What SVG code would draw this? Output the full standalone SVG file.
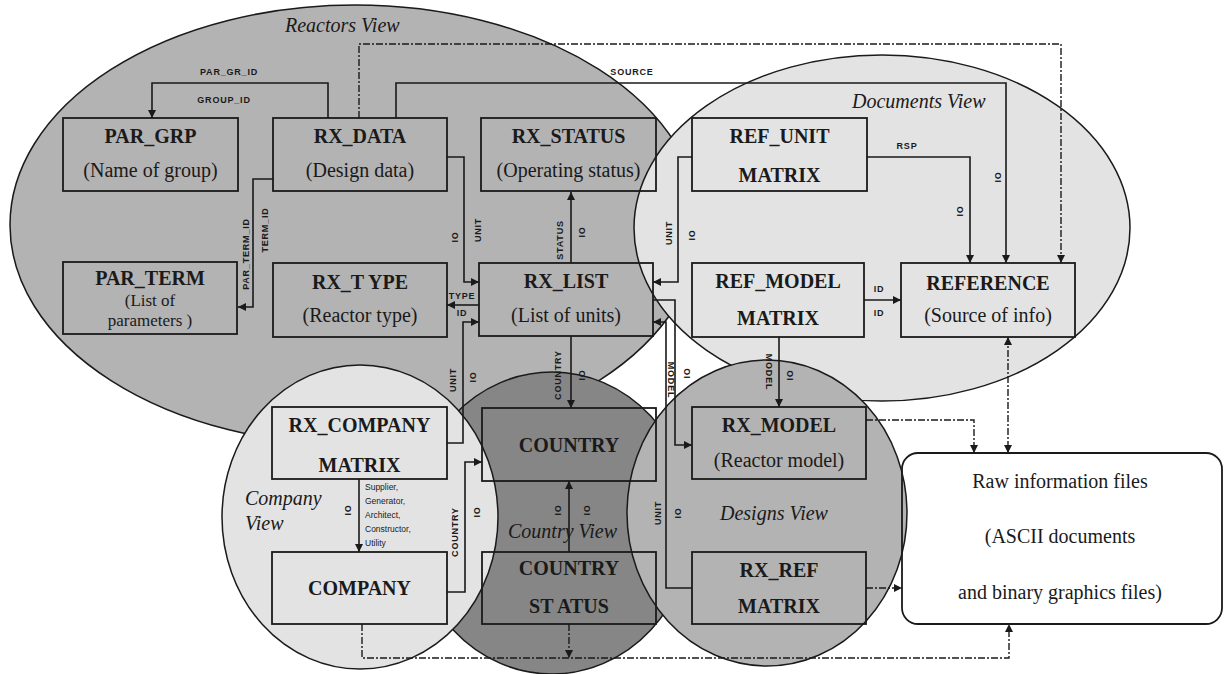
<svg xmlns="http://www.w3.org/2000/svg" width="1226" height="674" viewBox="0 0 1226 674">
<style>
.box{fill:none;stroke:#1a1a1a;stroke-width:1.8}
.ell{stroke:#1a1a1a;stroke-width:1.5}
.t{font-family:"Liberation Serif",serif;font-weight:bold;font-size:20px;fill:#1a1a1a;text-anchor:middle}
.s{font-family:"Liberation Serif",serif;font-size:20px;fill:#1a1a1a;text-anchor:middle}
.s2{font-family:"Liberation Serif",serif;font-size:17px;fill:#1a1a1a;text-anchor:middle}
.v{font-family:"Liberation Serif",serif;font-style:italic;font-size:20px;fill:#1a1a1a}
.l{font-family:"Liberation Sans",sans-serif;font-weight:bold;font-size:9px;fill:#1a1a1a;text-anchor:middle;dominant-baseline:central;letter-spacing:0.8px}
.sm{font-family:"Liberation Sans",sans-serif;font-size:8.5px;fill:#1a1a1a}
.c{fill:none;stroke:#1a1a1a;stroke-width:1.6}
.d{fill:none;stroke:#1a1a1a;stroke-width:1.4;stroke-dasharray:7 2 2 2}
</style>
<defs>
<marker id="ah" viewBox="0 0 10 10" refX="10" refY="5" markerWidth="10" markerHeight="8" markerUnits="userSpaceOnUse" orient="auto-start-reverse">
<path d="M0,0 L10,5 L0,10 z" fill="#1a1a1a"/>
</marker>
</defs>
<rect width="1226" height="674" fill="#ffffff"/>
<g id="views">
<ellipse id="reactors-view" class="ell" cx="355" cy="225" rx="345" ry="220" fill="#b3b3b3"/>
<ellipse id="documents-view" class="ell" cx="882" cy="228" rx="248" ry="173" fill="#e3e3e3"/>
<ellipse id="country-view" class="ell" cx="552" cy="523" rx="140" ry="151" fill="#868686"/>
<ellipse id="company-view" class="ell" cx="360" cy="517" rx="138" ry="152" fill="#e3e3e3"/>
<ellipse id="designs-view" class="ell" cx="767" cy="513" rx="140" ry="153" fill="#b3b3b3"/>
<text class="v" x="285" y="32">Reactors View</text>
<text class="v" x="852" y="108">Documents View</text>
<text class="v" x="245" y="505">Company</text>
<text class="v" x="245" y="530">View</text>
<text class="v" x="508" y="538">Country View</text>
<text class="v" x="720" y="520">Designs View</text>
</g>
<g id="connectors">
<path class="c" d="M328,118 V83 H152 V118" marker-end="url(#ah)"/>
<path class="c" d="M396,118 V83 H1006 V263" marker-end="url(#ah)"/>
<path class="c" d="M273,179 H253 V307 H238" marker-end="url(#ah)"/>
<path class="c" d="M447,157 H464 V282 H479" marker-end="url(#ah)"/>
<path class="c" d="M479,305 H447" marker-end="url(#ah)"/>
<path class="c" d="M447,443 H463 V322 H479" marker-end="url(#ah)"/>
<path class="c" d="M571,263 V192" marker-end="url(#ah)"/>
<path class="c" d="M571,336 V408" marker-end="url(#ah)"/>
<path class="c" d="M692,157 H678 V282 H653" marker-end="url(#ah)"/>
<path class="c" d="M653,300 H675 V445 H692" marker-end="url(#ah)"/>
<path class="c" d="M692,588 H666 V322 H653" marker-end="url(#ah)"/>
<path class="c" d="M779,337 V407" marker-end="url(#ah)"/>
<path class="c" d="M864,300 H901" marker-end="url(#ah)"/>
<path class="c" d="M867,157 H970 V263" marker-end="url(#ah)"/>
<path class="c" d="M359,479 V552" marker-end="url(#ah)"/>
<path class="c" d="M447,592 H465 V462 H482" marker-end="url(#ah)"/>
<path class="c" d="M569,552 V481" marker-end="url(#ah)"/>
<path class="d" d="M359,118 V44 H1061 V263" marker-end="url(#ah)"/>
<path class="d" d="M866,420 H974 V453" marker-end="url(#ah)"/>
<path class="d" d="M1008,337 V453" marker-start="url(#ah)" marker-end="url(#ah)"/>
<path class="d" d="M866,588 H902" marker-end="url(#ah)"/>
<path class="d" d="M362,624 V658 H1009 V624" marker-end="url(#ah)"/>
<path class="d" d="M569,624 V658" marker-end="url(#ah)"/>
<text class="l" x="229" y="72">PAR_GR_ID</text>
<text class="l" x="224" y="100">GROUP_ID</text>
<text class="l" x="632" y="72">SOURCE</text>
<text class="l" x="907" y="146">RSP</text>
<text class="l" transform="translate(998,177) rotate(-90)">IO</text>
<text class="l" transform="translate(960,211) rotate(-90)">IO</text>
<text class="l" transform="translate(246,254) rotate(-90)">PAR_TERM_ID</text>
<text class="l" transform="translate(265,230) rotate(-90)">TERM_ID</text>
<text class="l" transform="translate(455,237) rotate(-90)">IO</text>
<text class="l" transform="translate(478,230) rotate(-90)">UNIT</text>
<text class="l" x="462" y="296">TYPE</text>
<text class="l" x="462" y="313">ID</text>
<text class="l" transform="translate(560,240) rotate(-90)">STATUS</text>
<text class="l" transform="translate(582,232) rotate(-90)">IO</text>
<text class="l" transform="translate(558,375) rotate(-90)">COUNTRY</text>
<text class="l" transform="translate(582,375) rotate(-90)">IO</text>
<text class="l" transform="translate(669,233) rotate(-90)">UNIT</text>
<text class="l" transform="translate(692,235) rotate(-90)">IO</text>
<text class="l" transform="translate(671,380) rotate(90)">MODEL</text>
<text class="l" transform="translate(687,373) rotate(-90)">IO</text>
<text class="l" transform="translate(769,372) rotate(90)">MODEL</text>
<text class="l" transform="translate(790,375) rotate(-90)">IO</text>
<text class="l" x="879" y="289">ID</text>
<text class="l" x="879" y="313">ID</text>
<text class="l" transform="translate(453,380) rotate(-90)">UNIT</text>
<text class="l" transform="translate(473,377) rotate(-90)">IO</text>
<text class="l" transform="translate(455,532) rotate(-90)">COUNTRY</text>
<text class="l" transform="translate(477,512) rotate(-90)">IO</text>
<text class="l" transform="translate(348,510) rotate(-90)">IO</text>
<text class="l" transform="translate(558,510) rotate(-90)">IO</text>
<text class="l" transform="translate(587,510) rotate(-90)">IO</text>
<text class="l" transform="translate(658,513) rotate(-90)">UNIT</text>
<text class="l" transform="translate(678,513) rotate(-90)">IO</text>
<text class="sm" x="365" y="490">Supplier,</text>
<text class="sm" x="365" y="504">Generator,</text>
<text class="sm" x="365" y="518">Architect,</text>
<text class="sm" x="365" y="532">Constructor,</text>
<text class="sm" x="365" y="546">Utility</text>
</g>
<g id="par-grp"><rect class="box" x="63" y="118" width="175" height="73"/><text class="t" x="150.5" y="143">PAR_GRP</text><text class="s" x="150.5" y="177">(Name of group)</text></g>
<g id="rx-data"><rect class="box" x="273" y="118" width="174" height="73"/><text class="t" x="360" y="143">RX_DATA</text><text class="s" x="360" y="177">(Design data)</text></g>
<g id="rx-status"><rect class="box" x="481" y="118" width="175" height="73"/><text class="t" x="568.5" y="143">RX_STATUS</text><text class="s" x="568.5" y="177">(Operating status)</text></g>
<g id="ref-unit"><rect class="box" x="692" y="118" width="175" height="73"/><text class="t" x="779.5" y="143">REF_UNIT</text><text class="t" x="779.5" y="182">MATRIX</text></g>
<g id="par-term"><rect class="box" x="63" y="262" width="174" height="72"/><text class="t" x="150" y="285">PAR_TERM</text><text class="s2" x="150" y="306">(List of</text><text class="s2" x="150" y="326">parameters  )</text></g>
<g id="rx-type"><rect class="box" x="273" y="263" width="174" height="74"/><text class="t" x="360" y="289">RX_T YPE</text><text class="s" x="360" y="322">(Reactor type)</text></g>
<g id="rx-list"><rect class="box" x="479" y="263" width="174" height="73"/><text class="t" x="566" y="288">RX_LIST</text><text class="s" x="566" y="322">(List of units)</text></g>
<g id="ref-model"><rect class="box" x="692" y="263" width="172" height="74"/><text class="t" x="778" y="288">REF_MODEL</text><text class="t" x="778" y="325">MATRIX</text></g>
<g id="reference"><rect class="box" x="901" y="263" width="174" height="74"/><text class="t" x="988" y="290">REFERENCE</text><text class="s" x="988" y="322">(Source of info)</text></g>
<g id="rx-company"><rect class="box" x="272" y="407" width="175" height="72"/><text class="t" x="359.5" y="432">RX_COMPANY</text><text class="t" x="359.5" y="472">MATRIX</text></g>
<g id="company"><rect class="box" x="272" y="552" width="175" height="72"/><text class="t" x="359.5" y="595">COMPANY</text></g>
<g id="country"><rect class="box" x="482" y="408" width="174" height="73"/><text class="t" x="569" y="452">COUNTRY</text></g>
<g id="country-status"><rect class="box" x="482" y="552" width="174" height="72"/><text class="t" x="569" y="575">COUNTRY</text><text class="t" x="569" y="613">ST ATUS</text></g>
<g id="rx-model"><rect class="box" x="692" y="407" width="174" height="72"/><text class="t" x="779" y="432">RX_MODEL</text><text class="s" x="779" y="467">(Reactor model)</text></g>
<g id="rx-ref"><rect class="box" x="692" y="552" width="174" height="72"/><text class="t" x="779" y="577">RX_REF</text><text class="t" x="779" y="613">MATRIX</text></g>
<g id="raw-files"><rect class="box" x="902" y="453" width="320" height="171" rx="16" fill="#ffffff"/><text class="s" x="1060" y="488">Raw information files</text><text class="s" x="1060" y="543">(ASCII documents</text><text class="s" x="1060" y="599">and binary graphics files)</text></g>
</svg>
